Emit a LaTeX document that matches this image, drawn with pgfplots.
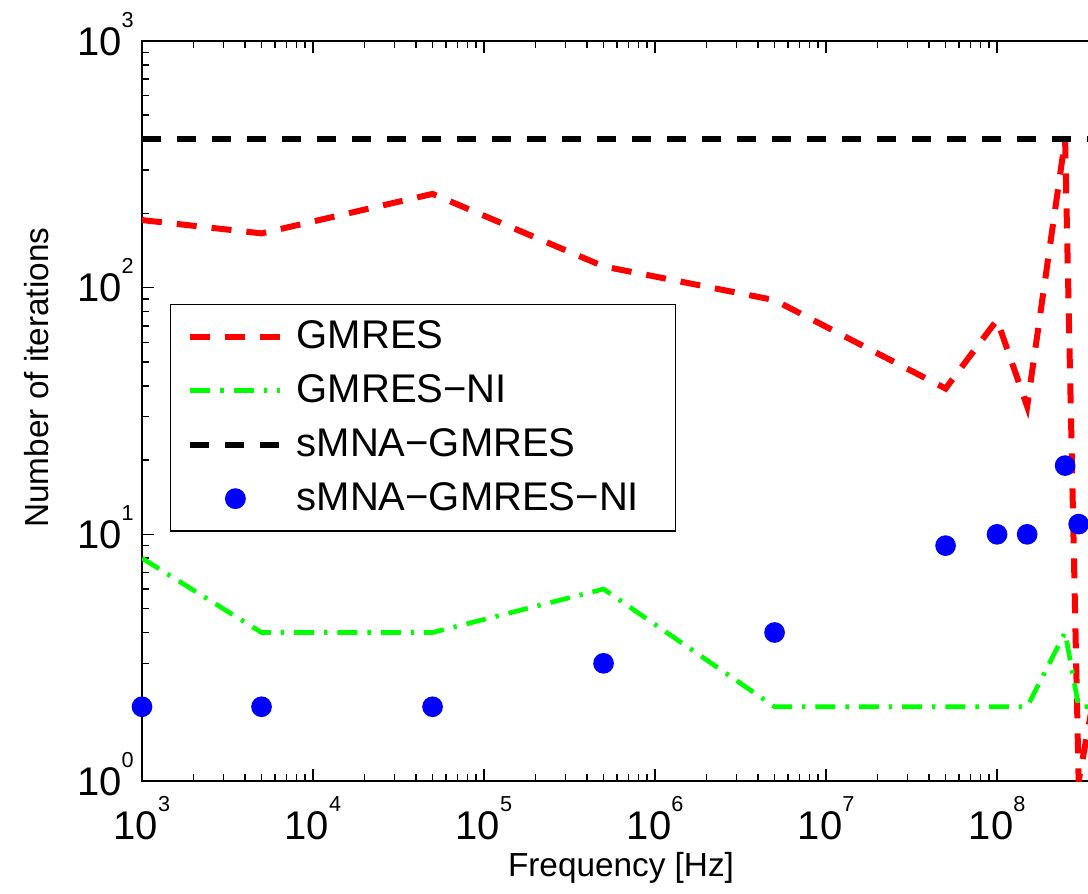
\documentclass[border=0pt]{standalone}
\usepackage{fontspec}
\setmainfont{Liberation Sans}
\usepackage{pgfplots}
\pgfplotsset{compat=1.18}

\begin{document}
\begin{tikzpicture}
\begin{axis}[
  scale only axis,
  width=287.4pt, height=222pt,
  xmode=log, ymode=log,
  xmin=1e3, xmax=4e8,
  ymin=1, ymax=1e3,
  xtick={1e3,1e4,1e5,1e6,1e7,1e8},
  ytick={1,10,100,1000},
  log number format basis/.code 2 args={#1\raisebox{8.4pt}{\fontsize{6.5}{7}\selectfont\pgfmathprintnumber[assume math mode=true]{#2}}},
  tick label style={font=\fontsize{12}{14}\selectfont},
  major tick length=3.6pt, minor tick length=2pt,
  tick style={black, line width=0.45pt},
  axis line style={line width=0.45pt},
  xticklabel style={yshift=-1pt},
  yticklabel style={anchor=base east, yshift=-4.3pt, xshift=1pt},
  xlabel={Frequency [Hz]},
  ylabel={Number of iterations},
  label style={font=\fontsize{12}{14}\selectfont},
  every axis x label/.style={at={(axis description cs:0.5,-0.1297)}, anchor=base},
  every axis y label/.style={at={(axis description cs:-0.1096,0.545)}, anchor=center, rotate=90},
  legend style={at={(0.0292,0.6446)}, anchor=north west, draw=black, line width=0.45pt,
    fill=white, font=\fontsize{12}{14}\selectfont, inner xsep=5pt, inner ysep=2.7pt, row sep=2.3pt,
    /tikz/every odd column/.append style={column sep=2pt}},
  legend cell align=left,
  legend image code/.code={\draw[mark repeat=2,mark phase=2,#1] plot coordinates {(0pt,0pt) (13.5pt,0pt) (27pt,0pt)};},
]

% GMRES
\addplot[red, line width=1.8pt, dash pattern=on 6pt off 4.5pt] coordinates {
  (1e3,188) (5e3,166) (5e4,240) (5e5,122) (5e6,89) (5e7,39)
  (1e8,74) (1.5e8,33) (2.5e8,400) (3e8,1) (4e8,3)
};
\addlegendentry{GMRES}

% GMRES-NI
\addplot[green, line width=1.4pt, dash pattern=on 6pt off 3pt on 1pt off 3pt] coordinates {
  (1e3,8) (5e3,4) (5e4,4) (5e5,6) (5e6,2) (5e7,2)
  (1e8,2) (1.5e8,2) (2.5e8,4) (3e8,2) (4e8,2)
};
\addlegendentry{GMRES−NI}

% sMNA-GMRES
\addplot[black, line width=1.8pt, dash pattern=on 5.7pt off 4.8pt] coordinates {
  (1e3,400) (5e3,400) (5e4,400) (5e5,400) (5e6,400) (5e7,400)
  (1e8,400) (1.5e8,400) (2.5e8,400) (3e8,400) (4e8,400)
};
\addlegendentry{sMNA−GMRES}

% sMNA-GMRES-NI
\addplot[blue, only marks, mark=*, mark size=2.9pt] coordinates {
  (1e3,2) (5e3,2) (5e4,2) (5e5,3) (5e6,4) (5e7,9)
  (1e8,10) (1.5e8,10) (2.5e8,19) (3e8,11)
};
\addlegendentry{sMNA−GMRES−NI\rule{4pt}{0pt}}

\coordinate (ll) at (rel axis cs:0,0);
\coordinate (ur) at (rel axis cs:1,1);
\end{axis}
\pgfresetboundingbox
\path[use as bounding box] ([shift={(-42.6pt,-33.6pt)}]ll) rectangle ([shift={(-3.6pt,12.3pt)}]ur);
\end{tikzpicture}
\end{document}
